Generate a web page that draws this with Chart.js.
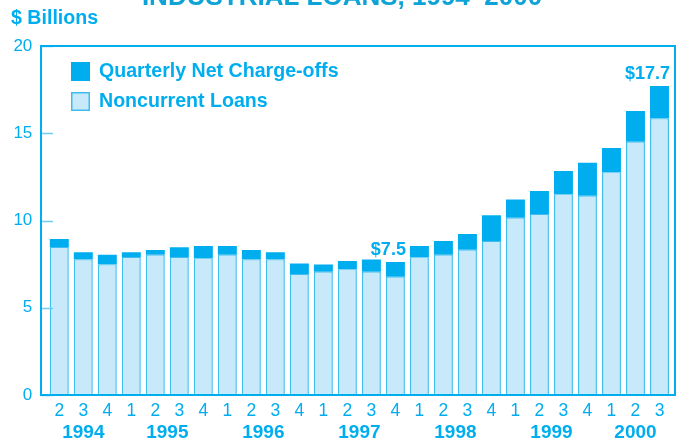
<!DOCTYPE html>
<html>
<head>
<meta charset="utf-8">
<script src="https://cdn.jsdelivr.net/npm/chart.js@4.4.0/dist/chart.umd.min.js"></script>
<style>
  html, body { margin: 0; padding: 0; background: #ffffff; }
  #wrap { position: relative; width: 681px; height: 442px; overflow: hidden; }
  canvas { display: block; }
</style>
</head>
<body>
<div id="wrap"><canvas id="c" width="681" height="442"></canvas></div>
<script>
// ---- Data ----
const categories = [
  '1994 Q2', '1994 Q3', '1994 Q4',
  '1995 Q1', '1995 Q2', '1995 Q3', '1995 Q4',
  '1996 Q1', '1996 Q2', '1996 Q3', '1996 Q4',
  '1997 Q1', '1997 Q2', '1997 Q3', '1997 Q4',
  '1998 Q1', '1998 Q2', '1998 Q3', '1998 Q4',
  '1999 Q1', '1999 Q2', '1999 Q3', '1999 Q4',
  '2000 Q1', '2000 Q2', '2000 Q3'
];
const noncurrentLoans = [
  8.48, 7.76, 7.48,
  7.91, 8.04, 7.91, 7.83,
  8.04, 7.76, 7.76, 6.93,
  7.07, 7.20, 7.07, 6.78,
  7.89, 8.04, 8.33, 8.83,
  10.16, 10.37, 11.50, 11.42,
  12.76, 14.52, 15.85
];
const netChargeOffs = [
  0.46, 0.42, 0.56,
  0.27, 0.27, 0.55, 0.71,
  0.50, 0.55, 0.42, 0.61,
  0.41, 0.48, 0.70, 0.84,
  0.65, 0.79, 0.90, 1.47,
  1.05, 1.32, 1.34, 1.89,
  1.39, 1.75, 1.86
];
const yTickValues = [0, 5, 10, 15, 20];
const valueLabels = [
  { category: '1997 Q4', text: '$7.5' },
  { category: '2000 Q3', text: '$17.7' }
];
const titleText = 'INDUSTRIAL LOANS, 1994\u20132000';
const yAxisTitle = '$ Billions';
const seriesNames = ['Noncurrent Loans', 'Quarterly Net Charge-offs'];

// ---- Styles ----
const CYAN = '#00aeef';
const LIGHT = '#c7e9f9';
const LIGHT_BORDER = '#3fbdee';
const FONT = '"Liberation Sans", Arial, Helvetica, sans-serif';

const decorPlugin = {
  id: 'decor',
  afterDraw(chart) {
    const ctx = chart.ctx;
    const area = chart.chartArea;
    const x = chart.scales.x;
    const y = chart.scales.y;
    const frameL = area.left - 6.3, frameR = area.right + 3.5;
    ctx.save();

    // tick marks (inward)
    ctx.strokeStyle = '#6fcdf3';
    ctx.lineWidth = 1.5;
    yTickValues.forEach(v => {
      const py = Math.round(y.getPixelForValue(v)) + 0.5;
      ctx.beginPath();
      ctx.moveTo(frameL, py);
      ctx.lineTo(frameL + 12, py);
      ctx.stroke();
    });

    // frame
    ctx.strokeStyle = CYAN;
    ctx.lineWidth = 2;
    ctx.strokeRect(frameL, area.top, frameR - frameL, area.bottom - area.top);

    // title (cut off at the top)
    ctx.fillStyle = '#0ea3d6';
    ctx.font = 'bold 26px ' + FONT;
    ctx.textAlign = 'center';
    ctx.textBaseline = 'alphabetic';
    ctx.fillText(titleText, 342, 5);

    // y axis title
    ctx.fillStyle = CYAN;
    ctx.font = 'bold 19.6px ' + FONT;
    ctx.textAlign = 'left';
    ctx.textBaseline = 'middle';
    ctx.fillText(yAxisTitle, 11, 19);

    // legend
    const ds = chart.data.datasets;
    const legendItems = [ds[1], ds[0]];
    legendItems.forEach((d, i) => {
      const top = 62 + i * 30;
      ctx.fillStyle = d.backgroundColor;
      ctx.fillRect(71, top, 19, 19);
      if (i === 1) {
        ctx.strokeStyle = LIGHT_BORDER;
        ctx.lineWidth = 1.5;
        ctx.strokeRect(71.75, top + 0.75, 17.5, 17.5);
      }
      ctx.fillStyle = CYAN;
      ctx.font = 'bold 19.6px ' + FONT;
      ctx.textAlign = 'left';
      ctx.textBaseline = 'middle';
      ctx.fillText(d.label, 99, top + 10);
    });

    // year labels centered under their quarters
    const groups = {};
    categories.forEach((c, i) => {
      const yr = c.split(' ')[0];
      if (!groups[yr]) groups[yr] = [];
      groups[yr].push(i);
    });
    ctx.font = 'bold 19px ' + FONT;
    ctx.textAlign = 'center';
    ctx.textBaseline = 'middle';
    ctx.fillStyle = CYAN;
    Object.keys(groups).forEach(yr => {
      const idx = groups[yr];
      const cx = (x.getPixelForValue(idx[0]) + x.getPixelForValue(idx[idx.length - 1])) / 2;
      ctx.fillText(yr, cx, 433);
    });

    // value labels above selected bars (right aligned to bar edge)
    const meta = chart.getDatasetMeta(1);
    ctx.font = 'bold 18px ' + FONT;
    ctx.textAlign = 'right';
    ctx.textBaseline = 'alphabetic';
    valueLabels.forEach(l => {
      const i = categories.indexOf(l.category);
      const el = meta.data[i];
      ctx.fillText(l.text, el.x + el.width / 2 + 1, el.y - 7);
    });

    ctx.restore();
  }
};

new Chart(document.getElementById('c'), {
  type: 'bar',
  data: {
    labels: categories,
    datasets: [
      {
        label: seriesNames[0],
        data: noncurrentLoans,
        backgroundColor: LIGHT,
        borderColor: LIGHT_BORDER,
        borderWidth: { left: 1.5, right: 1.5, top: 1, bottom: 0 },
        borderSkipped: false,
        barPercentage: 0.79,
        categoryPercentage: 1.0
      },
      {
        label: seriesNames[1],
        data: netChargeOffs,
        backgroundColor: CYAN,
        borderColor: CYAN,
        borderWidth: 0,
        barPercentage: 0.79,
        categoryPercentage: 1.0
      }
    ]
  },
  options: {
    responsive: false,
    animation: false,
    devicePixelRatio: 1,
    layout: { padding: { top: 46, right: 9.5, bottom: 0, left: 0 } },
    plugins: {
      legend: { display: false },
      title: { display: false },
      tooltip: { enabled: false }
    },
    scales: {
      x: {
        stacked: true,
        grid: { display: false, drawTicks: false },
        border: { display: false },
        ticks: {
          color: CYAN,
          font: { size: 17.5, family: FONT },
          padding: 6,
          maxRotation: 0,
          autoSkip: false,
          callback: function (value, index) {
            return categories[index].split(' Q')[1];
          }
        },
        afterFit: function (scale) { scale.height = 47; }
      },
      y: {
        stacked: true,
        min: 0,
        max: 20,
        grid: { display: false, drawTicks: false },
        border: { display: false },
        ticks: {
          stepSize: 5,
          color: CYAN,
          font: { size: 17, family: FONT },
          padding: 15
        },
        afterFit: function (scale) { scale.width = 47.3; }
      }
    }
  },
  plugins: [decorPlugin]
});
</script>
</body>
</html>
